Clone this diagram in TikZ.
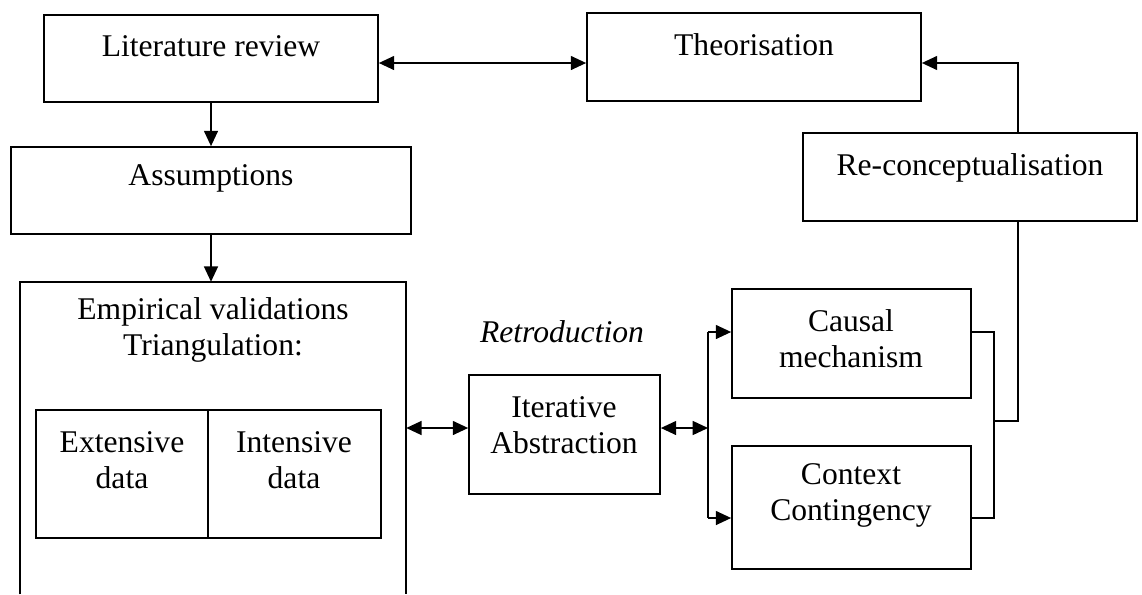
\documentclass[tikz,border=0pt]{standalone}
\usepackage{fontspec}
\setmainfont{Liberation Serif}
\usetikzlibrary{arrows.meta,fit}
\newcommand\mydiagfont{\fontsize{23.7pt}{27pt}\selectfont}
\begin{document}
\begin{tikzpicture}[x=0.75pt,y=-0.75pt,
  boxline/.style={line width=1.3pt},
  box/.style={draw,boxline,inner sep=0pt,fit={#1}},
  txt/.style={font=\mydiagfont,align=center,anchor=base,inner sep=0pt},
  conn/.style={line width=1.1pt},
  tip/.tip={Triangle[length=11.5pt,width=10.5pt]},
  arr/.style={conn,-tip},
  dbl/.style={conn,tip-tip}
]
\useasboundingbox (0,0) rectangle (1142,594);

% boxes (multi-line text nodes are placed at the baseline of their last line)
\node[box={(44,15) (378,102)}] (lit) {};
\node[txt] (litT) at (211,56) {Literature review};
\node[box={(587,13) (921,101)}] (theo) {};
\node[txt] (theoT) at (754,55) {Theorisation};
\node[box={(803,133) (1137,221)}] (recon) {};
\node[txt] (reconT) at (970,175) {Re-conceptualisation};
\node[box={(11,147) (411,234)}] (assm) {};
\node[txt] (assmT) at (211,185) {Assumptions};

\node[inner sep=0pt,fit={(20,282) (406,594)}] (emp) {};
\draw[boxline] (emp.south west) -- (emp.north west) -- (emp.north east) -- (emp.south east);
\node[txt] (empT) at (213,355) {Empirical validations\\Triangulation:};
\node[box={(36,410) (208,538)}] (ext) {};
\node[box={(208,410) (381,538)}] (int) {};
\node[txt] (extT) at (122,488) {Extensive\\data};
\node[txt] (intT) at (294,488) {Intensive\\data};

\node[box={(469,375) (660,494)}] (iter) {};
\node[txt] (iterT) at (564,453) {Iterative\\Abstraction};
\node[txt,font={\mydiagfont\itshape}] (retro) at (562,342) {Retroduction};

\node[box={(732,289) (971,398)}] (causal) {};
\node[txt] (causalT) at (851,367) {Causal\\mechanism};
\node[box={(732,446) (971,569)}] (context) {};
\node[txt] (contextT) at (851,520) {Context\\Contingency};

% connectors
\coordinate (ya) at (0,63);
\draw[dbl] (lit.east |- ya) -- (theo.west |- ya);
\draw[arr] (lit.south) -- (assm.north);
\draw[arr] (assm.south) -- (assm.south |- emp.north);
\coordinate (yb) at (0,428);
\draw[dbl] (emp.east |- yb) -- (iter.west |- yb);
\coordinate (bm) at (708,428);
\coordinate (bt) at (708,332);
\coordinate (bb) at (708,518);
\draw[dbl] (iter.east |- bm) -- (bm);
\draw[conn] (bt) -- (bb);
\draw[arr] (bt) -- (causal.west |- bt);
\draw[arr] (bb) -- (context.west |- bb);
\coordinate (rt) at (994,332);
\coordinate (rb) at (994,518);
\coordinate (rm) at (994,421);
\coordinate (rc) at (1018,421);
\draw[conn] (causal.east |- rt) -- (rt) -- (rb) -- (context.east |- rb);
\draw[conn] (rm) -- (rc) -- (rc |- recon.south);
\draw[arr] (rc |- recon.north) -- (rc |- ya) -- (theo.east |- ya);
\end{tikzpicture}
\end{document}
